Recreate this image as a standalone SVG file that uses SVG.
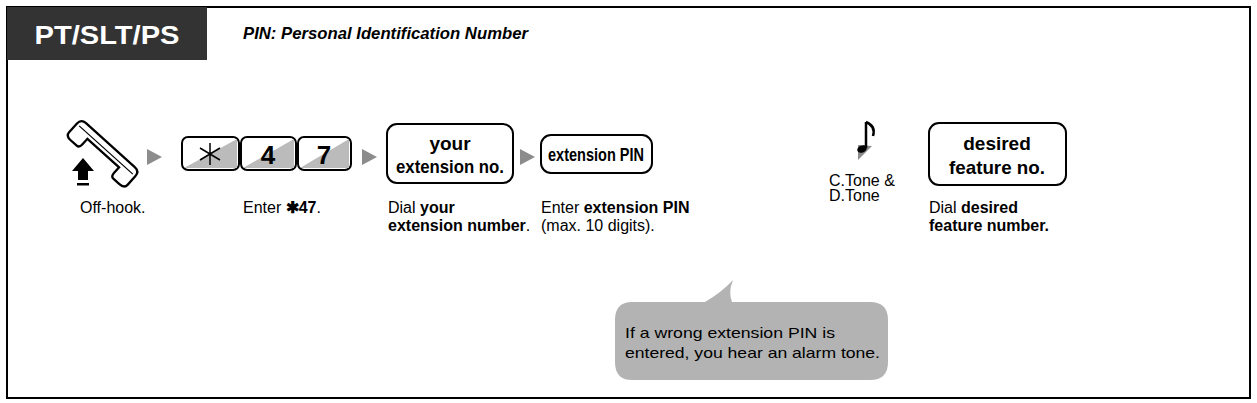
<svg xmlns="http://www.w3.org/2000/svg" width="1257" height="403" viewBox="0 0 1257 403">
<style>
text{font-family:"Liberation Sans",Arial,sans-serif;fill:#000}
.b{font-weight:bold}
.lbl{font-size:16px}
.box{fill:#fff;stroke:#000;stroke-width:2}
.arr{fill:#8c8c8c}
.key{font-size:26px;font-weight:bold}
.bt{font-size:19px;font-weight:bold}
</style>
<rect x="7" y="7" width="1243" height="391" fill="#fff" stroke="#000" stroke-width="2"/>
<rect x="7" y="7" width="200" height="53" fill="#333"/>
<text x="107" y="44" text-anchor="middle" class="b" font-size="25" style="fill:#fff" textLength="145" lengthAdjust="spacingAndGlyphs">PT/SLT/PS</text>
<text x="243" y="39" class="b" font-size="17" font-style="italic" textLength="285" lengthAdjust="spacingAndGlyphs">PIN: Personal Identification Number</text>
<g id="connectors">
<polygon class="arr" points="147,149 162,157 147,165"/>
<polygon class="arr" points="362,149 377,157 362,165"/>
<polygon class="arr" points="520,149 535,157 520,165"/>
</g>
<g id="handset">
<g transform="translate(106,150) rotate(42) scale(0.82)">
<path d="M-40,-8 L40,-8 Q48,-8 48,0 L48,14 Q48,20 40,20 L30,20 Q26,20 26,14 L26,5 L-26,5 L-26,14 Q-26,20 -30,20 L-40,20 Q-48,20 -48,14 L-48,0 Q-48,-8 -40,-8Z" fill="#fff" stroke="#000" stroke-width="2.8"/>
<path d="M-44,0 L44,0" stroke="#000" stroke-width="1.5"/>
</g>
<polygon points="83,158 72,171 78,171 78,180 88,180 88,171 94,171" fill="#000"/>
<rect x="77" y="183" width="12" height="2.5" fill="#000"/>
</g>
<g id="keys">
<rect x="182" y="137" width="57" height="33" rx="6" class="box"/>
<polygon points="184,168 237,139 237,168" fill="#bbb"/>
<path d="M210,143 V165 M200,148 L220,160 M200,160 L220,148" stroke="#000" stroke-width="1.5"/>
<rect x="241" y="137" width="55" height="33" rx="6" class="box"/>
<polygon points="243,168 294,139 294,168" fill="#bbb"/>
<text x="268" y="164" text-anchor="middle" class="key">4</text>
<rect x="298" y="137" width="53" height="33" rx="6" class="box"/>
<polygon points="300,168 349,139 349,168" fill="#bbb"/>
<text x="324" y="164" text-anchor="middle" class="key">7</text>
</g>
<g id="your-ext">
<rect x="387" y="124" width="126" height="59" rx="10" class="box"/>
<text x="450" y="150" text-anchor="middle" class="bt">your</text>
<text x="450" y="173" text-anchor="middle" class="bt" textLength="108" lengthAdjust="spacingAndGlyphs">extension no.</text>
</g>
<g id="ext-pin">
<rect x="541" y="135" width="111" height="38" rx="10" class="box"/>
<text x="596" y="161" text-anchor="middle" class="bt" textLength="96" lengthAdjust="spacingAndGlyphs">extension PIN</text>
</g>
<g id="tone">
<polygon points="858,145 858,160 872,146" fill="#8c8c8c"/>
<path d="M866,122 L866,148" stroke="#000" stroke-width="2.5"/>
<ellipse cx="862" cy="149" rx="5" ry="3.5" fill="#000" transform="rotate(-25 862 149)"/>
<path d="M866,122 Q876,126 873,136" fill="none" stroke="#000" stroke-width="2.5"/>
<text x="829" y="186" font-size="16">C.Tone &amp;</text>
<text x="829" y="201" font-size="16">D.Tone</text>
</g>
<g id="desired">
<rect x="929" y="123" width="137" height="62" rx="10" class="box"/>
<text x="997" y="150" text-anchor="middle" class="bt">desired</text>
<text x="997" y="174" text-anchor="middle" class="bt" textLength="96" lengthAdjust="spacingAndGlyphs">feature no.</text>
</g>
<g id="labels" class="lbl">
<text x="80" y="213" class="lbl">Off-hook.</text>
<text x="243" y="213" class="lbl">Enter <tspan class="b">✱47</tspan>.</text>
<text x="388" y="213" class="lbl">Dial <tspan class="b">your</tspan></text>
<text x="388" y="231" class="lbl"><tspan class="b">extension number</tspan>.</text>
<text x="541" y="213" class="lbl">Enter <tspan class="b">extension PIN</tspan></text>
<text x="541" y="231" class="lbl">(max. 10 digits).</text>
<text x="929" y="213" class="lbl">Dial <tspan class="b">desired</tspan></text>
<text x="929" y="231" class="lbl b">feature number.</text>
</g>
<g id="bubble">
<path d="M632,302 L705,302 Q722,292 733,280 Q728,292 732,302 L870,302 Q888,302 888,320 L888,362 Q888,380 870,380 L632,380 Q615,380 615,362 L615,320 Q615,302 632,302 Z" fill="#b3b3b3"/>
<text x="625" y="338" font-size="15" textLength="210" lengthAdjust="spacingAndGlyphs">If a wrong extension PIN is</text>
<text x="625" y="358" font-size="15" textLength="255" lengthAdjust="spacingAndGlyphs">entered, you hear an alarm tone.</text>
</g>
</svg>
